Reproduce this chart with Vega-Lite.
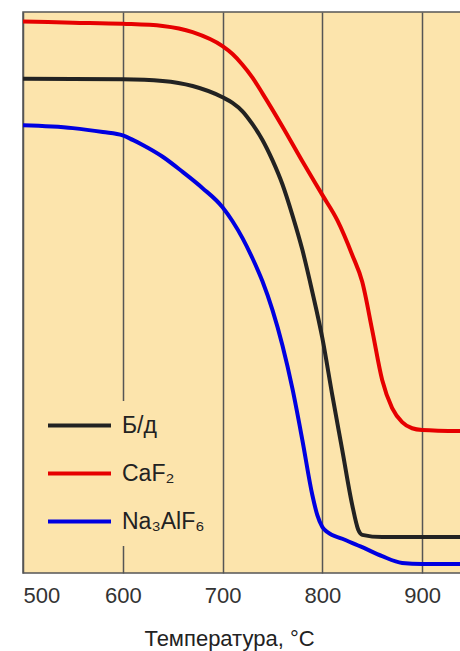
{
  "$schema": "https://vega.github.io/schema/vega-lite/v6.json",
  "width": 438,
  "height": 561,
  "autosize": "none",
  "padding": {"left": 23, "top": 12, "right": 0, "bottom": 78},
  "background": "white",
  "config": {
    "view": {"fill": "#FCE4AC", "stroke": "#555555", "strokeWidth": 1.5},
    "font": "Liberation Sans"
  },
  "data": {
    "values": [
      {"s": "CaF₂", "t": 500, "v": 98.3},
      {"s": "CaF₂", "t": 550, "v": 98.1},
      {"s": "CaF₂", "t": 600, "v": 97.9},
      {"s": "CaF₂", "t": 640, "v": 97.5},
      {"s": "CaF₂", "t": 670, "v": 96.4},
      {"s": "CaF₂", "t": 700, "v": 93.9},
      {"s": "CaF₂", "t": 710, "v": 92.5},
      {"s": "CaF₂", "t": 720, "v": 90.6},
      {"s": "CaF₂", "t": 730, "v": 88.3},
      {"s": "CaF₂", "t": 740, "v": 85.5},
      {"s": "CaF₂", "t": 760, "v": 79.6},
      {"s": "CaF₂", "t": 780, "v": 73.4},
      {"s": "CaF₂", "t": 800, "v": 67.4},
      {"s": "CaF₂", "t": 815, "v": 62.9},
      {"s": "CaF₂", "t": 830, "v": 56.7},
      {"s": "CaF₂", "t": 840, "v": 51.9},
      {"s": "CaF₂", "t": 850, "v": 43.3},
      {"s": "CaF₂", "t": 860, "v": 34.4},
      {"s": "CaF₂", "t": 870, "v": 29.4},
      {"s": "CaF₂", "t": 880, "v": 26.9},
      {"s": "CaF₂", "t": 890, "v": 25.8},
      {"s": "CaF₂", "t": 900, "v": 25.5},
      {"s": "CaF₂", "t": 940, "v": 25.3},
      {"s": "Б/д", "t": 500, "v": 88.1},
      {"s": "Б/д", "t": 600, "v": 88.0},
      {"s": "Б/д", "t": 640, "v": 87.7},
      {"s": "Б/д", "t": 670, "v": 86.8},
      {"s": "Б/д", "t": 700, "v": 84.8},
      {"s": "Б/д", "t": 710, "v": 83.8},
      {"s": "Б/д", "t": 720, "v": 82.3},
      {"s": "Б/д", "t": 730, "v": 80.0},
      {"s": "Б/д", "t": 740, "v": 77.2},
      {"s": "Б/д", "t": 750, "v": 73.6},
      {"s": "Б/д", "t": 760, "v": 69.3},
      {"s": "Б/д", "t": 770, "v": 63.8},
      {"s": "Б/д", "t": 780, "v": 57.6},
      {"s": "Б/д", "t": 790, "v": 50.1},
      {"s": "Б/д", "t": 800, "v": 41.9},
      {"s": "Б/д", "t": 810, "v": 31.7},
      {"s": "Б/д", "t": 820, "v": 21.9},
      {"s": "Б/д", "t": 830, "v": 12.1},
      {"s": "Б/д", "t": 836, "v": 7.7},
      {"s": "Б/д", "t": 840, "v": 6.8},
      {"s": "Б/д", "t": 860, "v": 6.4},
      {"s": "Б/д", "t": 940, "v": 6.4},
      {"s": "Na₃AlF₆", "t": 500, "v": 79.8},
      {"s": "Na₃AlF₆", "t": 550, "v": 79.3},
      {"s": "Na₃AlF₆", "t": 580, "v": 78.6},
      {"s": "Na₃AlF₆", "t": 600, "v": 78.0},
      {"s": "Na₃AlF₆", "t": 610, "v": 77.2},
      {"s": "Na₃AlF₆", "t": 620, "v": 76.3},
      {"s": "Na₃AlF₆", "t": 640, "v": 74.2},
      {"s": "Na₃AlF₆", "t": 660, "v": 71.5},
      {"s": "Na₃AlF₆", "t": 680, "v": 68.6},
      {"s": "Na₃AlF₆", "t": 700, "v": 65.2},
      {"s": "Na₃AlF₆", "t": 710, "v": 62.7},
      {"s": "Na₃AlF₆", "t": 720, "v": 59.7},
      {"s": "Na₃AlF₆", "t": 730, "v": 56.1},
      {"s": "Na₃AlF₆", "t": 740, "v": 52.0},
      {"s": "Na₃AlF₆", "t": 750, "v": 46.9},
      {"s": "Na₃AlF₆", "t": 760, "v": 40.6},
      {"s": "Na₃AlF₆", "t": 770, "v": 32.9},
      {"s": "Na₃AlF₆", "t": 780, "v": 23.7},
      {"s": "Na₃AlF₆", "t": 790, "v": 13.9},
      {"s": "Na₃AlF₆", "t": 795, "v": 10.3},
      {"s": "Na₃AlF₆", "t": 800, "v": 8.2},
      {"s": "Na₃AlF₆", "t": 805, "v": 7.3},
      {"s": "Na₃AlF₆", "t": 820, "v": 6.1},
      {"s": "Na₃AlF₆", "t": 840, "v": 4.6},
      {"s": "Na₃AlF₆", "t": 860, "v": 3.0},
      {"s": "Na₃AlF₆", "t": 880, "v": 1.8},
      {"s": "Na₃AlF₆", "t": 900, "v": 1.6},
      {"s": "Na₃AlF₆", "t": 940, "v": 1.6}
    ]
  },
  "mark": {"type": "line", "strokeWidth": 4, "interpolate": "monotone", "clip": true},
  "encoding": {
    "x": {
      "field": "t",
      "type": "quantitative",
      "scale": {"domain": [500, 939], "nice": false, "zero": false},
      "axis": {
        "values": [500, 600, 700, 800, 900],
        "grid": true,
        "gridColor": "#555555",
        "gridWidth": 1.5,
        "gridOpacity": 1,
        "ticks": false,
        "tickSize": 0,
        "domain": false,
        "labelPadding": 12,
        "labelFontSize": 22,
        "labelColor": "#333333",
        "labelFont": "Liberation Sans",
        "title": "Температура, °C",
        "titleFont": "Liberation Sans",
        "titleFontSize": 22,
        "titleFontWeight": "normal",
        "titleColor": "#222222",
        "titleBaseline": "alphabetic",
        "titleX": 206,
        "titleY": 72
      }
    },
    "y": {
      "field": "v",
      "type": "quantitative",
      "scale": {"domain": [0, 100], "nice": false},
      "axis": null
    },
    "color": {
      "field": "s",
      "type": "nominal",
      "scale": {"domain": ["Б/д", "CaF₂", "Na₃AlF₆"], "range": ["#222222", "#E60000", "#0000E0"]},
      "legend": {
        "orient": "none",
        "legendX": 32,
        "legendY": 389,
        "title": null,
        "symbolType": "M-3,0H3",
        "symbolSize": 441,
        "symbolStrokeWidth": 4,
        "labelFontSize": 23,
        "labelFont": "Liberation Sans",
        "labelColor": "#222222",
        "labelOffset": 30,
        "rowPadding": 23,
        "padding": 12,
        "fillColor": "#FCE4AC"
      }
    }
  }
}
